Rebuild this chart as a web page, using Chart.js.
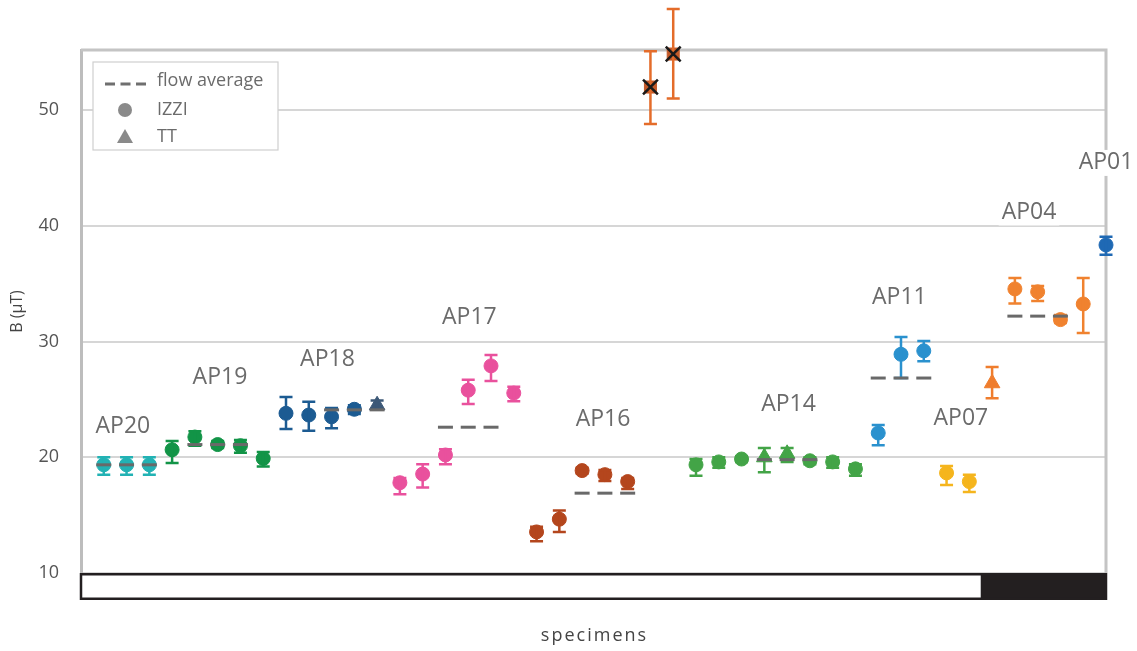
<!DOCTYPE html>
<html>
<head>
<meta charset="utf-8">
<script src="https://cdn.jsdelivr.net/npm/chart.js@4.4.1/dist/chart.umd.min.js"></script>
<style>
  html, body { margin: 0; padding: 0; background: #fff; }
</style>
</head>
<body>
<canvas id="chart" width="1137" height="651"></canvas>
<script>
// sites in plotting order, and how many specimens each has
const groupNames = ['AP20', 'AP19', 'AP18', 'AP17', 'AP16', 'rejected', 'AP14', 'AP11', 'AP07', 'AP04', 'AP01'];
const groupSizes = [3, 5, 5, 6, 5, 2, 8, 3, 3, 4, 1];

// paleointensity per specimen (uT)
const intensity = [
  19.35, 19.35, 19.35,
  20.65, 21.75, 21.1, 21.0, 19.9,
  23.8, 23.65, 23.5, 24.15, 24.5,
  17.8, 18.55, 20.2, 25.8, 27.9, 25.55,
  13.55, 14.65, 18.85, 18.5, 17.9,
  52.0, 54.85,
  19.35, 19.6, 19.85, 20.0, 20.3, 19.7, 19.6, 19.0,
  22.1, 28.9, 29.2,
  18.65, 17.9, 26.4,
  34.55, 34.3, 31.9, 33.25,
  38.35
];
const errLow = [
  18.5, 18.5, 18.5,
  19.5, 21.0, 20.8, 20.4, 19.2,
  22.45, 22.3, 22.5, 23.75, 24.1,
  16.8, 17.4, 19.4, 24.6, 26.6, 24.85,
  12.75, 13.55, 18.6, 17.95, 17.25,
  48.8, 51.0,
  18.4, 19.1, 19.6, 18.7, 19.6, 19.4, 19.1, 18.4,
  21.05, 26.85, 28.3,
  17.6, 17.0, 25.1,
  33.3, 33.5, 31.6, 30.75,
  37.5
];
const errHigh = [
  20.0, 20.0, 20.0,
  21.4, 22.25, 21.4, 21.5, 20.45,
  25.2, 24.8, 24.25, 24.5, 24.9,
  18.2, 19.4, 20.7, 26.7, 28.85, 26.1,
  14.0, 15.4, 19.1, 18.9, 18.2,
  55.1, 58.75,
  19.85, 20.0, 20.1, 20.8, 20.8, 20.0, 20.0, 19.4,
  22.8, 30.4, 30.05,
  19.25, 18.5, 27.8,
  35.5, 34.8, 32.3, 35.5,
  39.05
];
const method = [
  'IZZI', 'IZZI', 'IZZI',
  'IZZI', 'IZZI', 'IZZI', 'IZZI', 'IZZI',
  'IZZI', 'IZZI', 'IZZI', 'IZZI', 'TT',
  'IZZI', 'IZZI', 'IZZI', 'IZZI', 'IZZI', 'IZZI',
  'IZZI', 'IZZI', 'IZZI', 'IZZI', 'IZZI',
  'IZZI', 'IZZI',
  'IZZI', 'IZZI', 'IZZI', 'TT', 'TT', 'IZZI', 'IZZI', 'IZZI',
  'IZZI', 'IZZI', 'IZZI',
  'IZZI', 'IZZI', 'TT',
  'IZZI', 'IZZI', 'IZZI', 'IZZI',
  'IZZI'
];
// flow average, shown at three specimens of each flow
const flowAverage = [
  19.35, 19.35, 19.35,
  null, 21.1, 21.1, 21.1, null,
  null, null, 24.1, 24.1, 24.1,
  null, null, 22.6, 22.6, 22.6, null,
  null, null, 16.9, 16.9, 16.9,
  null, null,
  null, null, null, 19.8, 19.8, 19.8, null, null,
  26.85, 26.85, 26.85,
  null, null, null,
  32.2, 32.2, 32.2, null,
  null
];

// site label anchors (specimen slot, uT)
const siteLabels = ['AP20', 'AP19', 'AP18', 'AP17', 'AP16', 'AP14', 'AP11', 'AP07', 'AP04', 'AP01'];
const siteLabelSlot = [1.84, 6.1, 10.82, 17.05, 22.92, 31.06, 35.93, 38.63, 41.62, 45];
const siteLabelB = [22.7, 26.9, 28.45, 32.1, 23.3, 24.56, 33.85, 23.35, 41.16, 45.44];

// polarity bar under the axis (specimen slots)
const polarity = ['normal', 'reversed'];
const polarityFrom = [0, 39.5];
const polarityTo = [39.5, 45];

const legendLabels = ['flow average', 'IZZI', 'TT'];

// colours
const groupColors = ['#22b2b4', '#129447', '#1c5b92', '#e9519d', '#b4461d', '#e46c2a',
  '#43a447', '#2a91ce', '#f5b51d', '#f0822f', '#1f69b4'];
const ttColors = { AP18: '#3c5877', AP07: '#ef7d2d' };
const textGray = '#6b6b6b';

const specimens = [''];
groupNames.forEach((g, gi) => {
  for (let k = 1; k <= groupSizes[gi]; k++) specimens.push(g + '-' + k);
});

const datasets = [];
let start = 0;
groupNames.forEach((g, gi) => {
  const idx = [];
  for (let k = 0; k < groupSizes[gi]; k++) idx.push(start + k);
  start += groupSizes[gi];
  const rejected = g === 'rejected';
  const colors = idx.map(i => method[i] === 'TT' && ttColors[g] ? ttColors[g] : groupColors[gi]);
  datasets.push({
    label: g,
    data: idx.map(i => ({ x: specimens[i + 1], y: intensity[i] })),
    errLow: idx.map(i => errLow[i]),
    errHigh: idx.map(i => errHigh[i]),
    errColors: colors,
    showLine: false,
    pointStyle: rejected ? 'rect' : idx.map(i => method[i] === 'TT' ? 'triangle' : 'circle'),
    pointRadius: rejected ? 8.5 : idx.map(i => method[i] === 'TT' ? 9 : 7),
    pointBackgroundColor: rejected ? '#c35a2a' : colors,
    pointBorderColor: rejected ? '#c35a2a' : colors,
    pointBorderWidth: 1,
    clip: false,
    order: 2
  });
  if (rejected) {
    datasets.push({
      label: 'rejected mark',
      data: idx.map(i => ({ x: specimens[i + 1], y: intensity[i] })),
      showLine: false,
      pointStyle: 'crossRot',
      pointRadius: 10.5,
      pointBorderColor: '#1a1a1a',
      pointBorderWidth: 2.5,
      clip: false,
      order: 1
    });
  }
});

datasets.push({
  label: 'flow average',
  data: flowAverage.map((v, i) => v === null ? null : { x: specimens[i + 1], y: v }).filter(d => d),
  showLine: false,
  pointStyle: 'line',
  pointRadius: 7.5,
  pointBorderColor: '#696969',
  pointBorderWidth: 3,
  clip: false,
  order: 0
});

const errorBars = {
  id: 'errorBars',
  afterDatasetDraw(chart, args) {
    const ds = chart.data.datasets[args.index];
    if (!ds.errLow) return;
    const ctx = chart.ctx;
    const y = chart.scales.y;
    ctx.save();
    ctx.lineWidth = 2.5;
    args.meta.data.forEach((pt, k) => {
      const top = y.getPixelForValue(ds.errHigh[k]);
      const bot = y.getPixelForValue(ds.errLow[k]);
      ctx.strokeStyle = ds.errColors[k];
      ctx.beginPath();
      ctx.moveTo(pt.x, top); ctx.lineTo(pt.x, bot);
      ctx.moveTo(pt.x - 6.5, top); ctx.lineTo(pt.x + 6.5, top);
      ctx.moveTo(pt.x - 6.5, bot); ctx.lineTo(pt.x + 6.5, bot);
      ctx.stroke();
    });
    ctx.restore();
  }
};

const frameAndBar = {
  id: 'frameAndBar',
  beforeDatasetsDraw(chart) {
    const { ctx, chartArea } = chart;
    const x = chart.scales.x;
    ctx.save();
    // top and right frame
    ctx.strokeStyle = '#c4c4c4';
    ctx.lineWidth = 3;
    ctx.beginPath();
    ctx.moveTo(chartArea.left, chartArea.top);
    ctx.lineTo(chartArea.right, chartArea.top);
    ctx.lineTo(chartArea.right, chartArea.bottom);
    ctx.stroke();

    // polarity bar
    const top = chartArea.bottom, h = 27;
    polarity.forEach((p, k) => {
      const x0 = x.getPixelForValue(polarityFrom[k]);
      const x1 = x.getPixelForValue(polarityTo[k]);
      ctx.fillStyle = p === 'reversed' ? '#231f20' : '#ffffff';
      ctx.fillRect(x0, top, x1 - x0, h);
    });
    ctx.strokeStyle = '#231f20';
    ctx.lineWidth = 2.5;
    const xa = x.getPixelForValue(polarityFrom[0]);
    const xb = x.getPixelForValue(polarityTo[polarity.length - 1]);
    ctx.strokeRect(xa, top + 1.25, xb - xa, h - 2.5);

    // legend
    const lx = chartArea.left + 12, ly = chartArea.top + 12;
    ctx.fillStyle = '#ffffff';
    ctx.fillRect(lx, ly, 185, 88);
    ctx.strokeStyle = '#cfcfcf';
    ctx.lineWidth = 1.2;
    ctx.strokeRect(lx, ly, 185, 88);
    const rows = [19, 48, 75];
    ctx.fillStyle = '#8a8a8a';
    ctx.strokeStyle = '#6f6f6f';
    ctx.lineWidth = 3;
    ctx.setLineDash([10, 5.5]);
    ctx.beginPath();
    ctx.moveTo(lx + 12, ly + rows[0] + 3);
    ctx.lineTo(lx + 53, ly + rows[0] + 3);
    ctx.stroke();
    ctx.setLineDash([]);
    ctx.beginPath();
    ctx.arc(lx + 32, ly + rows[1], 7, 0, Math.PI * 2);
    ctx.fill();
    ctx.beginPath();
    ctx.moveTo(lx + 32, ly + rows[2] - 8);
    ctx.lineTo(lx + 40, ly + rows[2] + 6);
    ctx.lineTo(lx + 24, ly + rows[2] + 6);
    ctx.closePath();
    ctx.fill();
    ctx.fillStyle = textGray;
    ctx.font = '18px "Open Sans"';
    ctx.textBaseline = 'middle';
    ctx.textAlign = 'left';
    legendLabels.forEach((t, k) => ctx.fillText(t, lx + 64, ly + rows[k]));
    ctx.restore();
  },
  afterDatasetsDraw(chart) {
    const { ctx, chartArea } = chart;
    const x = chart.scales.x, y = chart.scales.y;
    ctx.save();
    ctx.font = '23px "Open Sans"';
    ctx.textAlign = 'center';
    ctx.textBaseline = 'middle';
    siteLabels.forEach((t, k) => {
      const px = x.getPixelForValue(siteLabelSlot[k]);
      const py = y.getPixelForValue(siteLabelB[k]);
      const w = ctx.measureText(t).width;
      ctx.fillStyle = '#ffffff';
      ctx.fillRect(px - w / 2 - 3, py - 13, w + 6, 26);
      ctx.fillStyle = textGray;
      ctx.fillText(t, px, py);
    });
    // x title
    ctx.font = '18px "Open Sans"';
    ctx.fillStyle = '#444';
    ctx.letterSpacing = '2px';
    ctx.fillText('specimens', (chartArea.left + chartArea.right) / 2 + 1, 636);
    ctx.restore();
  }
};

new Chart(document.getElementById('chart'), {
  type: 'line',
  data: { labels: specimens, datasets },
  options: {
    responsive: false,
    animation: false,
    devicePixelRatio: 1,
    layout: { padding: { left: 0, right: 31, top: 50, bottom: 0 } },
    plugins: { legend: { display: false }, tooltip: { enabled: false } },
    scales: {
      x: {
        type: 'category',
        offset: false,
        ticks: { display: false },
        grid: { display: false },
        border: { display: false },
        afterFit(s) { s.height = 78; }
      },
      y: {
        min: 10,
        max: 55.2,
        afterFit(s) { s.width = 81; },
        ticks: {
          stepSize: 10,
          includeBounds: false,
          padding: 22,
          color: '#555',
          font: { family: 'Open Sans', size: 18 }
        },
        grid: { color: '#d6d6d6', lineWidth: 2, drawTicks: false },
        border: { color: '#bdbdbd', width: 3 },
        title: {
          display: true,
          text: 'B (μT)',
          color: '#444',
          font: { family: 'Open Sans', size: 16 },
          padding: { top: 8, bottom: 0 }
        }
      }
    }
  },
  plugins: [errorBars, frameAndBar]
});
</script>
</body>
</html>
